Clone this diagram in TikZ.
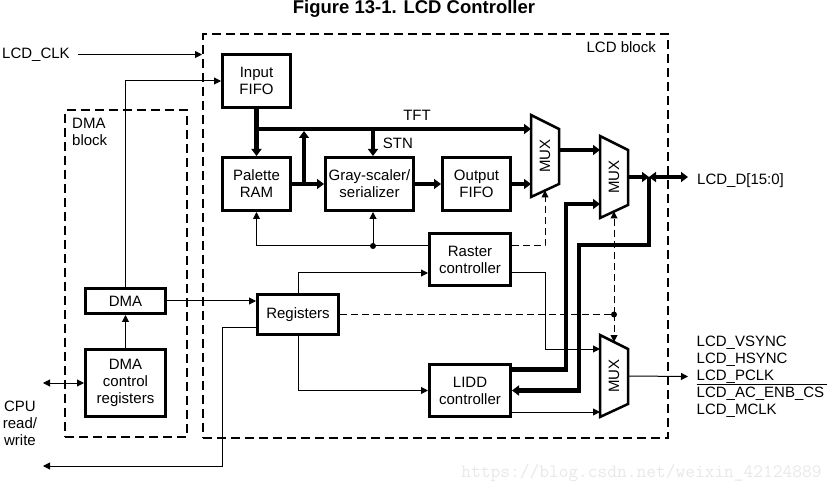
\documentclass[tikz,border=0pt]{standalone}
\usepackage{fontspec}
\setmainfont{Liberation Sans}
\usetikzlibrary{arrows.meta}
\usetikzlibrary{calc}

\tikzset{
	>={Triangle[length=7pt,width=7pt]},
	blk/.style={draw, line width=2.7pt, align=center, inner sep=0pt, minimum width=68.3pt, minimum height=53.3pt},
	dblk/.style={draw, line width=2.2pt, dash pattern=on 9pt off 5pt},
	bus/.style={line width=4.3pt, >={Triangle[length=7pt,width=10pt]}},
	sig/.style={line width=1pt},
	dsig/.style={line width=1pt, dash pattern=on 7pt off 4pt},
	lbl/.style={inner sep=0pt},
}

% mux: name, x left, y top
\newcommand{\muxblock}[3]{%
	\draw[line width=2.5pt, line join=miter] (#2,#3) -- ++(28,14) -- ++(0,55) -- ++(-28,13) -- cycle;
	\node[rotate=90] at (#2+14,#3+41) {MUX};
	\coordinate (#1a) at (#2,#3+14);
	\coordinate (#1b) at (#2,#3+68);
	\coordinate (#1o) at (#2+28,#3+41);
	\coordinate (#1s) at (#2+14,#3+75.5);
	\coordinate (#1n) at (#2+14,#3+7);
}

\begin{document}
\begin{tikzpicture}[x=1pt,y=-1pt,font=\fontsize{15}{17}\selectfont]
	\useasboundingbox (0,0) rectangle (838,486);
	
	\node[anchor=base, font=\fontsize{18.5}{20}\selectfont\bfseries] (title) at (414,13.3) {Figure 13-1. LCD Controller};
	
	% dashed blocks
	\node[dblk, minimum width=464.8pt, minimum height=403.8pt] (lcdblk) at (435.5,236) {};
	\node[dblk, minimum width=121.8pt, minimum height=326.8pt] (dmablk) at (126,273.5) {};
	\node[lbl, anchor=base east] at (656,53) {LCD block};
	\node[lbl, anchor=north west, align=left] at (72,118) {DMA\\block};
	
	% boxes
	\node[blk] (infifo) at (256.5,81) {Input\\FIFO};
	\node[blk] (palram) at (256.5,184) {Palette\\RAM};
	\node[blk, minimum width=88.3pt] (gray) at (369.5,184) {Gray-scaler/\\serializer};
	\node[blk] (outfifo) at (476.5,184) {Output\\FIFO};
	\node[blk, minimum width=81.3pt, minimum height=52.3pt] (raster) at (470,259.5) {Raster\\controller};
	\node[blk, minimum width=81.3pt, minimum height=52.3pt] (lidd) at (470,390.5) {LIDD\\controller};
	\node[blk, minimum width=81.3pt, minimum height=40.3pt] (regs) at (298,314.5) {Registers};
	\node[blk, minimum width=80.3pt, minimum height=25.3pt] (dma) at (125.5,301) {DMA};
	\node[blk, minimum width=80.3pt, minimum height=67.3pt] (dmactl) at (125.5,383) {DMA\\control\\registers};
	
	\muxblock{m1}{531}{115}
	\muxblock{m2}{600}{136}
	\muxblock{m3}{600}{335}
	
	% outside labels
	\node[lbl, anchor=west] (clk) at (2,54.5) {LCD\_CLK};
	\node[lbl, anchor=west] (lcdd) at (697,180.5) {LCD\_D[15:0]};
	\foreach \t [count=\i] in {LCD\_VSYNC,LCD\_HSYNC,LCD\_PCLK,LCD\_AC\_ENB\_CS,LCD\_MCLK}
		\node[lbl, anchor=base west] (out\i) at (696.5,329.5+17*\i) {\t};
	\draw[line width=1.2pt] ([yshift=2.5pt]out4.north west) -- ([xshift=3pt,yshift=2.5pt]out4.north east);
	\node[lbl, align=center] (cpu) at (20,423) {CPU\\read/\\write};
	\node[lbl, anchor=base] at (417,120.5) {TFT};
	\node[lbl, anchor=base west] at (382.7,149) {STN};
	
	\coordinate (tft) at (256.5,129);
	\coordinate (pj) at (304,184);
	\coordinate (stn) at (373,129);
	\coordinate (gj) at (373,246);
	\coordinate (ljun) at (649,177);
	\coordinate (rj) at (m2s |- regs.east);
	\coordinate (dout) at (688,177);
	\coordinate (sout) at (688,376.5);
	\coordinate (cpuio) at (43,383);
	\coordinate (cpuout) at (43,466);
	\coordinate (rasout) at ([yshift=-41pt]raster.north east);
	\coordinate (liddlo) at ([yshift=6pt]lidd.south east);
	
	% thin signals
	\draw[sig,->] ([xshift=8pt]clk.east) -- (clk.east -| lcdblk.west);
	\draw[sig,->] (dma.north) |- (infifo.west);
	\draw[sig,->] (dmactl.north) -- (dma.south);
	\draw[sig,->] (dma.east) -- (dma.east -| regs.west);
	\draw[sig,<->] (cpuio) -- (dmactl.west);
	\draw[sig,->] ([yshift=8pt]regs.south west) -- ++(-34,0) |- (cpuout);
	\draw[sig,->] (regs.north) |- ([yshift=-41pt]raster.north west);
	\draw[sig,->] (regs.south) |- (lidd.west);
	\draw[sig,->] ([yshift=-14pt]raster.north west) -| (palram.south);
	\draw[sig,->] (gj) -- (gj |- gray.south);
	\fill (gj) circle (3pt);
	\draw[dsig,->] ([yshift=-14pt]raster.north east) -| (m1s);
	\draw[sig,->] (rasout) -- (rasout -| m1s) |- (m3a);
	\draw[dsig] (regs.east) -- (rj);
	\draw[dsig,->] (rj) -- (m2s);
	\draw[dsig,->] (rj) -- (m3n);
	\fill (rj) circle (3pt);
	\draw[sig,->] (liddlo) -- (liddlo -| m3a);
	\draw[sig,->] (m3o) -- (sout);
	
	% data buses
	\draw[bus,->] (infifo.south) -- (palram.north);
	\draw[bus,->] (tft) -- (m1a);
	\draw[bus,->,shorten >=2pt] (pj) -- (pj |- tft);
	\draw[bus,->] (stn) -- (stn |- gray.north);
	\draw[bus,->] (palram.east) -- (gray.west);
	\draw[bus,->] (gray.east) -- (outfifo.west);
	\draw[bus,->] (outfifo.east) -- (outfifo.east -| m1b);
	\draw[bus,->] (m2a -| m1o) -- (m2a);
	\draw[bus,->] ([yshift=-6.5pt]lidd.north east) -- ++(54,0) |- (m2b);
	\draw[bus,->] (m2o) -- (ljun);
	\draw[bus,<->] (ljun) -- (dout);
	\draw[bus,->] (ljun) -- ++(0,68) -- ++(-70,0) |- (lidd.east);
	
	\node[text=black!9, font=\fontsize{18.9}{20}\ttfamily, anchor=base] at (641.5,477) {https://blog.csdn.net/weixin\_42124889};
\end{tikzpicture}
\end{document}
